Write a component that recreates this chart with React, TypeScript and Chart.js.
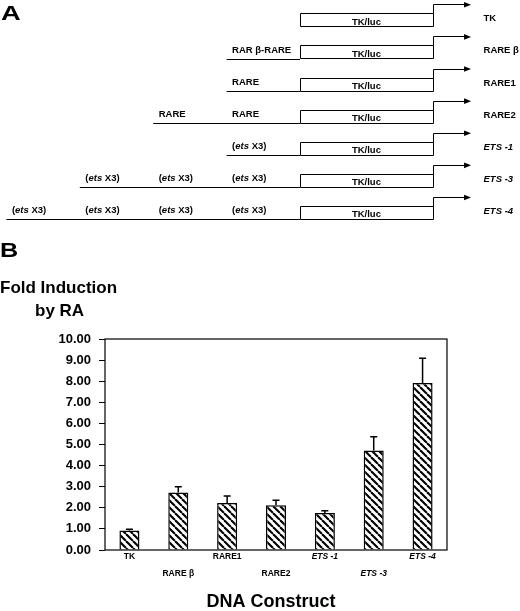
import React, { useEffect, useRef } from "react";
import { Chart, registerables } from "chart.js";

Chart.register(...registerables);

// ---------- Panel B data ----------
const categories = ["TK", "RARE β", "RARE1", "RARE2", "ETS -1", "ETS -3", "ETS -4"];
const foldInduction = [0.92, 2.72, 2.23, 2.12, 1.75, 4.72, 7.92];
const errorUp = [0.06, 0.28, 0.33, 0.24, 0.11, 0.65, 1.17];
const yTicks = [0, 1, 2, 3, 4, 5, 6, 7, 8, 9, 10];
const italicCategories = ["ETS -1", "ETS -3", "ETS -4"];

// ---------- Panel A data ----------
const constructNames = ["TK", "RARE β", "RARE1", "RARE2", "ETS -1", "ETS -3", "ETS -4"];
const upstreamElements: string[][] = [
  [],
  ["RAR β-RARE"],
  ["RARE"],
  ["RARE", "RARE"],
  ["(ets X3)"],
  ["(ets X3)", "(ets X3)", "(ets X3)"],
  ["(ets X3)", "(ets X3)", "(ets X3)", "(ets X3)"],
];
const reporterLabel = "TK/luc";

const FONT = "'Liberation Sans', Arial, Helvetica, sans-serif";

function makeHatch(): CanvasPattern | string {
  const s = 7;
  const c = document.createElement("canvas");
  c.width = s;
  c.height = s;
  const g = c.getContext("2d");
  if (!g) return "#fff";
  g.fillStyle = "#fff";
  g.fillRect(0, 0, s, s);
  g.strokeStyle = "#000";
  g.lineWidth = 2.1;
  for (const x0 of [-s, 0, s]) {
    g.beginPath();
    g.moveTo(x0, 0);
    g.lineTo(x0 + s, s);
    g.stroke();
  }
  const p = g.createPattern(c, "repeat");
  return p || "#fff";
}

// draw text where "ets" is italic
function drawElementLabel(ctx: CanvasRenderingContext2D, text: string, x: number, y: number) {
  const bold = `bold 9.5px ${FONT}`;
  const ital = `italic bold 9.5px ${FONT}`;
  const m = text.match(/^\((ets)( X3)\)$/);
  if (!m) {
    ctx.font = bold;
    ctx.fillText(text, x, y);
    return;
  }
  const parts: [string, string][] = [["(", bold], ["ets", ital], [" X3)", bold]];
  let cx = x;
  for (const [t, f] of parts) {
    ctx.font = f;
    ctx.fillText(t, cx, y);
    cx += ctx.measureText(t).width;
  }
}

const diagramPlugin = {
  id: "diagram",
  afterDraw(chart: any) {
    const { ctx } = chart;
    const xs = chart.scales.x;
    const ys = chart.scales.y;
    const px = (v: number) => xs.getPixelForValue(v);
    const py = (v: number) => ys.getPixelForValue(v);
    ctx.save();
    ctx.fillStyle = "#000";
    ctx.strokeStyle = "#000";
    ctx.lineWidth = 1;

    // Panel letter
    ctx.font = `bold 21px ${FONT}`;
    ctx.textBaseline = "alphabetic";
    ctx.save();
    ctx.translate(1, 19.5);
    ctx.scale(1.3, 1);
    ctx.fillText("A", 0, 0);
    ctx.restore();
    ctx.textBaseline = "middle";

    const boxStart = 0;
    const boxEnd = 1.81;
    const arrowEnd = 2.33;
    const rightLabelX = 2.5;

    constructNames.forEach((name, r) => {
      const top = py(r);
      const bottom = py(r + 0.415);
      const arrowY = py(r - 0.28);
      const x0 = px(boxStart);
      const x1 = px(boxEnd);
      const xa = px(arrowEnd);
      // box
      ctx.beginPath();
      ctx.rect(Math.round(x0) + 0.5, Math.round(top) + 0.5, Math.round(x1 - x0), Math.round(bottom - top));
      ctx.stroke();
      // bent arrow
      ctx.beginPath();
      ctx.moveTo(Math.round(x1) + 0.5, Math.round(top) + 0.5);
      ctx.lineTo(Math.round(x1) + 0.5, Math.round(arrowY) + 0.5);
      ctx.lineTo(xa - 6, Math.round(arrowY) + 0.5);
      ctx.stroke();
      ctx.beginPath();
      ctx.moveTo(xa, arrowY + 0.5);
      ctx.lineTo(xa - 7, arrowY - 2.3);
      ctx.lineTo(xa - 7, arrowY + 3.3);
      ctx.closePath();
      ctx.fill();
      // reporter label
      ctx.font = `bold 9.5px ${FONT}`;
      ctx.textAlign = "center";
      ctx.fillText(reporterLabel, (x0 + x1) / 2, bottom - 4.5);
      ctx.textAlign = "left";
      // upstream line + labels
      const els = upstreamElements[r];
      if (els.length) {
        const ls = px(-els.length);
        ctx.beginPath();
        ctx.moveTo(ls, Math.round(bottom) + 0.5);
        ctx.lineTo(x0, Math.round(bottom) + 0.5);
        ctx.stroke();
        els.forEach((lab, k) => {
          const lx = px(-(els.length - k)) + 5.5;
          drawElementLabel(ctx, lab, lx, py(r + 0.14));
        });
      }
      // construct name
      const it = italicCategories.includes(name);
      ctx.font = `${it ? "italic " : ""}bold 9.5px ${FONT}`;
      ctx.fillText(name, px(rightLabelX), py(r + 0.17));
    });
    ctx.restore();
  },
};

const errorBarPlugin = {
  id: "errorBars",
  afterDatasetsDraw(chart: any) {
    const { ctx, chartArea } = chart;
    const ys = chart.scales.y;
    const meta = chart.getDatasetMeta(0);
    ctx.save();
    ctx.strokeStyle = "#000";
    ctx.lineWidth = 1.5;
    meta.data.forEach((bar: any, i: number) => {
      const yTop = ys.getPixelForValue(foldInduction[i] + errorUp[i]);
      ctx.beginPath();
      ctx.moveTo(bar.x, bar.y);
      ctx.lineTo(bar.x, yTop);
      ctx.moveTo(bar.x - 3.5, yTop);
      ctx.lineTo(bar.x + 3.5, yTop);
      ctx.stroke();
    });
    // frame
    ctx.lineWidth = 1.2;
    ctx.strokeRect(chartArea.left, chartArea.top, chartArea.right - chartArea.left, chartArea.bottom - chartArea.top);
    ctx.restore();
  },
  afterDraw(chart: any) {
    const { ctx, chartArea } = chart;
    ctx.save();
    ctx.fillStyle = "#000";
    ctx.textBaseline = "alphabetic";
    ctx.font = `bold 21px ${FONT}`;
    ctx.save();
    ctx.translate(0, 17);
    ctx.scale(1.2, 1);
    ctx.fillText("B", 0, 0);
    ctx.restore();
    ctx.textBaseline = "middle";
    ctx.font = `bold 17px ${FONT}`;
    ctx.textAlign = "left";
    ctx.fillText("Fold Induction", 0, 48);
    ctx.fillText("by RA", 35, 71);
    ctx.font = `bold 18px ${FONT}`;
    ctx.textAlign = "center";
    ctx.fillText("DNA Construct", (chartArea.left + chartArea.right) / 2 - 5, 362);
    ctx.restore();
  },
};

export default function App() {
  const aRef = useRef<HTMLCanvasElement | null>(null);
  const bRef = useRef<HTMLCanvasElement | null>(null);

  useEffect(() => {
    if (!aRef.current || !bRef.current) return;
    const chartA = new Chart(aRef.current, {
      type: "scatter",
      data: { datasets: [] },
      options: {
        animation: false,
        responsive: false,
        events: [],
        layout: { padding: 0 },
        plugins: { legend: { display: false }, tooltip: { enabled: false } },
        scales: {
          x: { type: "linear", min: -4.087, max: 2.997, display: false },
          y: { type: "linear", min: -0.414, max: 7.06, reverse: true, display: false },
        },
      },
      plugins: [diagramPlugin],
    });

    const chartB = new Chart(bRef.current, {
      type: "bar",
      data: {
        labels: categories,
        datasets: [
          {
            data: foldInduction,
            backgroundColor: makeHatch() as any,
            borderColor: "#000",
            borderWidth: 1.5,
            categoryPercentage: 1,
            barPercentage: 0.41,
          },
        ],
      },
      options: {
        animation: false,
        responsive: false,
        events: [],
        layout: { padding: { top: 99, right: 73, bottom: 0, left: 0 } },
        plugins: { legend: { display: false }, tooltip: { enabled: false } },
        scales: {
          x: {
            grid: { display: false, drawTicks: false },
            border: { display: false },
            afterFit: (s: any) => {
              s.height = 61;
            },
            ticks: {
              padding: -1.5,
              autoSkip: false,
              maxRotation: 0,
              color: "#000",
              callback: (_v: any, i: number) => (i % 2 === 0 ? [categories[i]] : ["", categories[i]]),
              font: (c: any) => ({
                family: FONT,
                size: 8.5,
                weight: "bold",
                style: italicCategories.includes(categories[c.index]) ? "italic" : "normal",
                lineHeight: "17px",
              }),
            },
          },
          y: {
            min: yTicks[0],
            max: yTicks[yTicks.length - 1],
            afterFit: (s: any) => {
              s.width = 105;
            },
            afterBuildTicks: (s: any) => {
              s.ticks = yTicks.map((v) => ({ value: v }));
            },
            grid: { display: true, drawOnChartArea: false, drawTicks: true, tickLength: 6, color: "#000", lineWidth: 1 },
            border: { display: false },
            ticks: {
              padding: 8,
              color: "#000",
              font: { family: FONT, size: 13, weight: "bold" },
              callback: (v: any) => Number(v).toFixed(2),
            },
          },
        },
      },
      plugins: [errorBarPlugin],
    });

    return () => {
      chartA.destroy();
      chartB.destroy();
    };
  }, []);

  return (
    <div style={{ position: "absolute", left: 0, top: 0, width: 520, height: 611, background: "#fff" }}>
      <canvas ref={aRef} width={520} height={240} style={{ position: "absolute", left: 0, top: 0, width: 520, height: 240 }} />
      <canvas ref={bRef} width={520} height={371} style={{ position: "absolute", left: 0, top: 240, width: 520, height: 371 }} />
    </div>
  );
}
